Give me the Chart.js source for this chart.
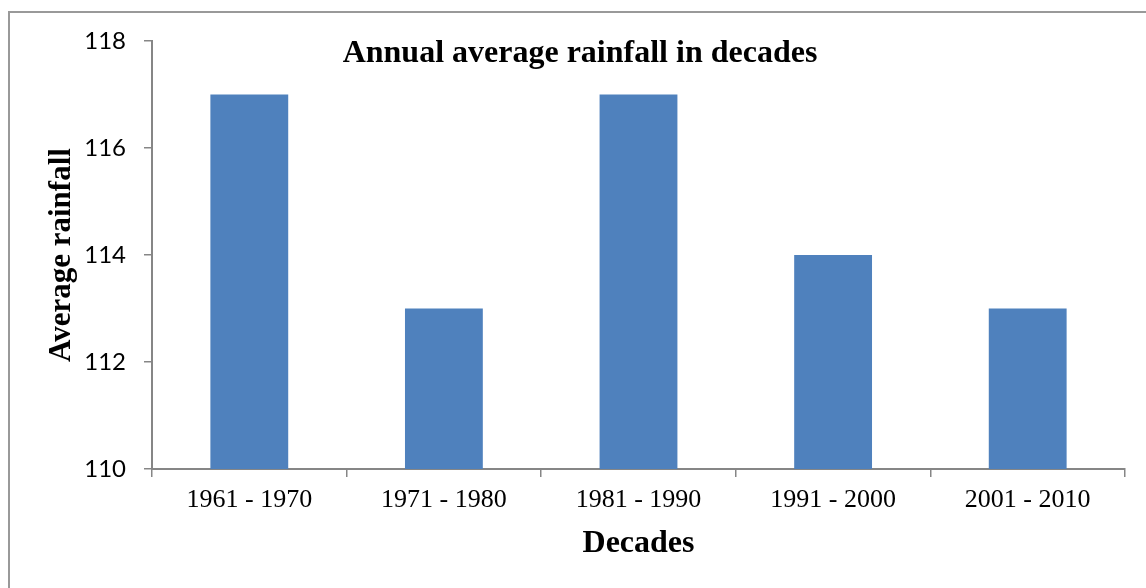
<!DOCTYPE html>
<html>
<head>
<meta charset="utf-8">
<script src="https://cdn.jsdelivr.net/npm/chart.js@4"></script>
<style>
    body { margin: 0; background: #fff; overflow: hidden; }
    #wrap { position: relative; width: 1146px; height: 588px; }
    #frame { position: absolute; left: 8px; top: 11px; width: 1150px; height: 600px; border: 2px solid #999; }
    #rain-chart { position: absolute; left: 0; top: 0; }
</style>
</head>
<body>
<div id="wrap">
    <div id="frame"></div>
    <canvas id="rain-chart" width="1146" height="588"></canvas>
</div>
<script>
const decades = ['1961 - 1970', '1971 - 1980', '1981 - 1990', '1991 - 2000', '2001 - 2010'];
const rainfall = [117, 113, 117, 114, 113];
const yTicks = [110, 112, 114, 116, 118];

const chartTitle = 'Annual average rainfall in decades';
const axisGray = '#868686';

// title sits inside the plot area, so draw it by hand
const titleInside = {
    id: 'titleInside',
    afterDraw: function(c) {
        const ctx = c.ctx;
        ctx.save();
        ctx.font = 'bold 32px "Liberation Serif"';
        ctx.fillStyle = '#000';
        ctx.textAlign = 'center';
        ctx.textBaseline = 'alphabetic';
        ctx.fillText(chartTitle, 580, 62);
        ctx.restore();
    }
};

function makeChart() {
    const ctx = document.getElementById('rain-chart').getContext('2d');

    const chart = new Chart(ctx, {
        type: 'bar',
        data: {
            labels: decades,
            datasets: [{
                backgroundColor: '#4F81BD',
                data: rainfall,
                barPercentage: 0.4,
                categoryPercentage: 1
            }]
        },
        options: {
            responsive: false,
            animation: false,
            layout: {
                padding: { top: 41, right: 21, left: 0, bottom: 0 }
            },
            plugins: {
                legend: { display: false },
                title: { display: false },
                tooltip: { enabled: false }
            },
            scales: {
                x: {
                    grid: {
                        offset: true,
                        drawOnChartArea: false,
                        drawTicks: true,
                        tickLength: 8,
                        color: axisGray,
                        lineWidth: 1.5
                    },
                    border: { display: true, color: axisGray, width: 2 },
                    ticks: {
                        color: '#000',
                        padding: 8,
                        maxRotation: 0,
                        font: { family: '"Liberation Serif"', size: 26 }
                    },
                    title: {
                        display: true,
                        text: 'Decades',
                        color: '#000',
                        padding: { top: 0, bottom: 25 },
                        font: { family: '"Liberation Serif"', size: 32, weight: 'bold' }
                    },
                    afterFit: function(scale) {
                        scale.height = 119;
                    }
                },
                y: {
                    min: 110,
                    max: 118,
                    afterBuildTicks: function(scale) {
                        scale.ticks = yTicks.map(v => ({ value: v }));
                    },
                    grid: {
                        drawOnChartArea: false,
                        drawTicks: true,
                        tickLength: 8,
                        color: axisGray,
                        lineWidth: 1.5
                    },
                    border: { display: true, color: axisGray, width: 2 },
                    ticks: {
                        color: '#000',
                        padding: 18,
                        font: { family: 'Lato', size: 24 }
                    },
                    title: {
                        display: true,
                        text: 'Average rainfall',
                        color: '#000',
                        padding: { top: 43, bottom: 0 },
                        font: { family: '"Liberation Serif"', size: 31, weight: 'bold' }
                    },
                    afterFit: function(scale) {
                        scale.width = 152;
                    }
                }
            }
        },
        plugins: [titleInside]
    });
}

makeChart();
</script>
</body>
</html>
